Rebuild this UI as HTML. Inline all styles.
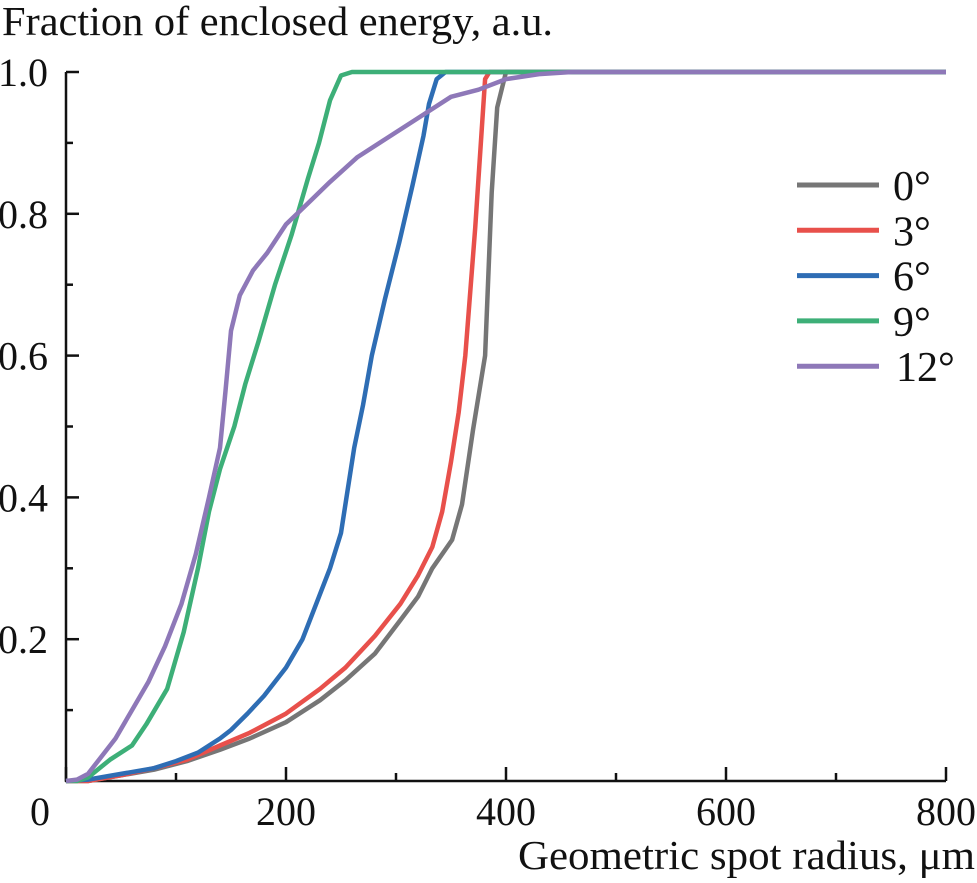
<!DOCTYPE html>
<html><head><meta charset="utf-8"><style>
body{margin:0;background:#fff}
svg{display:block;font-family:"Liberation Serif",serif;fill:#111}
</style></head><body>
<svg id="chart" width="977" height="883" viewBox="0 0 977 883" xmlns="http://www.w3.org/2000/svg">
<text x="2" y="35" font-size="41" textLength="551" lengthAdjust="spacingAndGlyphs">Fraction of enclosed energy, a.u.</text>
<text x="975" y="869" font-size="41" text-anchor="end" textLength="457" lengthAdjust="spacingAndGlyphs">Geometric spot radius, μm</text>
<g id="axes"></g>
<g id="series"></g>
<g id="legend"></g>
</svg>
<script>
const xTicks=[0,200,400,600,800];
const xMinor=[100,300,500,700];
const yTicks=[0.2,0.4,0.6,0.8,1.0];
const yTickLabels=["0.2","0.4","0.6","0.8","1.0"];
const yMinor=[0.1,0.3,0.5,0.7,0.9];
const seriesNames=["0°","3°","6°","9°","12°"];
const seriesColors=["#767676","#e8504b","#2e6db4","#3daf78","#8e78b8"];
const r0=[0,20,50,80,110,140,167,200,231,254,281,304,320,333,351,360,370,381,387,392,400,450,500,600,700,800];
const v0=[0,0,0.008,0.016,0.028,0.044,0.06,0.083,0.114,0.142,0.18,0.227,0.26,0.30,0.34,0.39,0.495,0.60,0.83,0.95,1,1,1,1,1,1];
const r1=[0,20,50,80,110,140,167,200,231,254,281,304,320,333,342,350,357,363,368,372,375,378,381,385,450,600,800];
const v1=[0,0,0.008,0.018,0.03,0.05,0.068,0.095,0.13,0.16,0.205,0.25,0.29,0.33,0.38,0.45,0.52,0.60,0.70,0.78,0.85,0.92,0.99,1,1,1,1];
const r2=[0,20,50,80,100,120,140,150,165,180,200,215,230,240,250,255,262,270,278,290,303,315,325,330,337,345,450,600,800];
const v2=[0,0.002,0.01,0.018,0.028,0.04,0.06,0.072,0.095,0.12,0.16,0.20,0.26,0.30,0.35,0.40,0.47,0.53,0.60,0.68,0.76,0.84,0.91,0.955,0.99,1,1,1,1];
const r3=[0,10,20,40,60,73,92,107,120,130,140,153,163,175,190,205,220,230,240,250,260,400,600,800];
const v3=[0,0,0.005,0.03,0.05,0.08,0.13,0.21,0.30,0.38,0.44,0.50,0.56,0.62,0.70,0.77,0.85,0.90,0.96,0.995,1,1,1,1];
const r4=[0,10,20,30,45,60,75,90,105,118,130,140,145,150,158,170,183,200,220,240,265,290,320,350,375,400,430,460,600,800];
const v4=[0,0.002,0.01,0.03,0.06,0.1,0.14,0.19,0.25,0.32,0.40,0.47,0.55,0.635,0.685,0.72,0.745,0.785,0.815,0.845,0.88,0.905,0.935,0.965,0.975,0.99,0.997,1,1,1];
const seriesR=[r0,r1,r2,r3,r4];
const seriesV=[v0,v1,v2,v3,v4];

const X0=66,X1=946,Y0=781,Y1=72;
const sx=r=>X0+(r/800)*(X1-X0);
const sy=v=>Y0-v*(Y0-Y1);
const NS="http://www.w3.org/2000/svg";
function mk(tag,attrs,parent){const e=document.createElementNS(NS,tag);for(const k in attrs)e.setAttribute(k,attrs[k]);parent.appendChild(e);return e;}
const axes=document.getElementById('axes');
let e=mk('line',{x1:X0,y1:Y1,x2:X0,y2:Y0+1,stroke:'#111','stroke-width':2.5},axes);


e=mk('line',{x1:X0-1,y1:Y0,x2:X1,y2:Y0,stroke:'#111','stroke-width':2.5},axes);


xTicks.forEach(t=>{
  const x=sx(t);
  const l=mk('line',{x1:x,y1:Y0,x2:x,y2:Y0-14,stroke:'#111','stroke-width':2.5},axes);
  
  
  const tx=mk('text',{x:t===0?40:x,y:825,'font-size':40,'text-anchor':'middle'},axes);
  tx.textContent=String(t);
  
  
});
xMinor.forEach(t=>{
  const l=mk('line',{x1:sx(t),y1:Y0,x2:sx(t),y2:Y0-8,stroke:'#111','stroke-width':2.5},axes);
  
  
});
yTicks.forEach((t,i)=>{
  const y=sy(t);
  const l=mk('line',{x1:X0,y1:y,x2:X0+13,y2:y,stroke:'#111','stroke-width':2.5},axes);
  
  
  const tx=mk('text',{x:48,y:y+14,'font-size':40,'text-anchor':'end'},axes);
  tx.textContent=yTickLabels[i];
  
  
});
yMinor.forEach(t=>{
  const l=mk('line',{x1:X0,y1:sy(t),x2:X0+7,y2:sy(t),stroke:'#111','stroke-width':2.5},axes);
  
  
});
const series=document.getElementById('series');
seriesR.forEach((rs,i)=>{
  const d=rs.map((r,j)=>(j?'L':'M')+sx(r).toFixed(1)+' '+sy(seriesV[i][j]).toFixed(1)).join(' ');
  const p=mk('path',{d:d,fill:'none',stroke:seriesColors[i],'stroke-width':4.5,'stroke-linejoin':'round'},series);
  
  
});
const legend=document.getElementById('legend');
seriesNames.forEach((n,i)=>{
  const y=185+i*45.3;
  const l=mk('line',{x1:797,y1:y,x2:879,y2:y,stroke:seriesColors[i],'stroke-width':5},legend);
  
  
  const t=mk('text',{x:i===4?896:893,y:y+15,'font-size':42},legend);
  t.textContent=n;
  
  
});
</script>
</body></html>
